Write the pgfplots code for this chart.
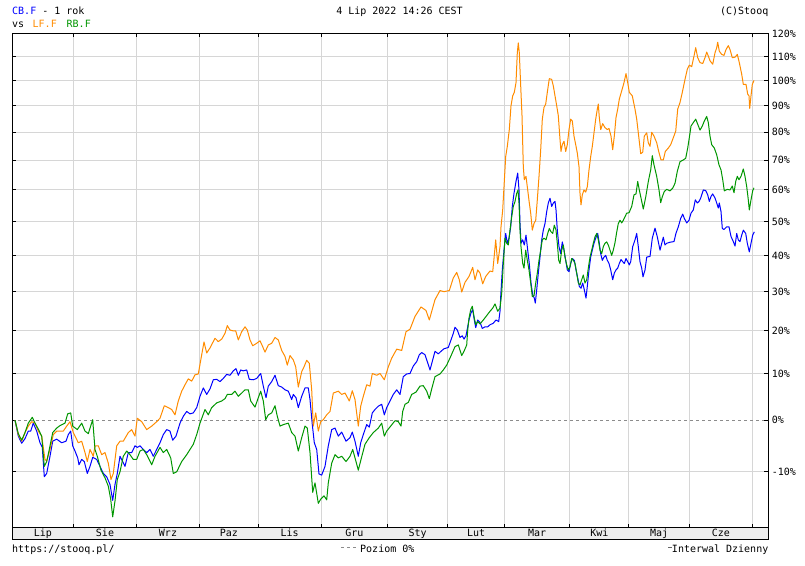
\documentclass[border=0pt]{standalone}
\usepackage{fontspec}
\setmainfont{DejaVu Sans Mono}
\usepackage{pgfplots}
\pgfplotsset{compat=1.18}
\definecolor{cbblue}{RGB}{0,0,255}
\definecolor{lforange}{RGB}{255,140,0}
\definecolor{rbgreen}{RGB}{0,150,0}
\definecolor{gridgray}{RGB}{214,214,214}
\newcommand{\fs}{\fontsize{10bp}{12bp}\selectfont}
\begin{document}
\begin{tikzpicture}
\useasboundingbox (0,0) rectangle (805bp,566bp);
\fill[white] (0,0) rectangle (805bp,566bp);
% month band
\draw[fill=black!7, line width=1bp] (12.3bp,26.7bp) rectangle (768.3bp,38.3bp);
\begin{axis}[
  at={(12.3bp,38.3bp)}, anchor=south west,
  scale only axis, width=756bp, height=494.4bp,
  xmin=12.3, xmax=768.3,
  ymode=log, ymin=80.3, ymax=220.3,
  axis line style={black, line width=1.2bp},
  xtick={73.3,136.7,199.3,258.3,321,387.7,447.6,504.6,569.8,628.8,689.4,752.3},
  xticklabels={},
  ytick={90,110,120,130,140,150,160,170,180,190,200,210,220},
  yticklabels={-10\%,10\%,20\%,30\%,40\%,50\%,60\%,70\%,80\%,90\%,100\%,110\%,120\%},
  extra y ticks={100}, extra y tick labels={0\%},
  extra y tick style={grid=major, major grid style={draw=black!45, dash pattern=on 3bp off 3bp, line width=1bp}},
  grid=major, major grid style={draw=gridgray, line width=1bp},
  tick align=inside, xtick pos=both, ytick pos=both, yticklabel pos=right,
  major tick length=4bp, tick style={black, line width=1bp},
  yticklabel style={font=\fs, anchor=west},
  /pgf/number format/assume math mode=true,
  clip=true,
  every axis plot/.append style={line width=1bp, no markers, line join=round},
]
\addplot[cbblue] table[x=x, y expr=100+\thisrow{p}] {
x p
15 0
18.3 -3.2
21.7 -4.6
25 -3.7
28.3 -2.2
30.7 -2.2
33.3 -0.6
36.7 -2.2
40 -4.5
42.3 -5.4
44.3 -10.9
46.7 -10.3
50 -7.1
52.7 -4.2
56.7 -3.8
61.7 -4.5
66 -4.2
68.3 -2.9
70.7 -2.2
72.7 -5.1
75 -6.1
77.7 -7.4
79 -8.7
81.7 -7.7
84.3 -8.1
87.3 -10.3
90 -9.0
92.7 -7.3
96.7 -7.7
100 -9.0
103.3 -10.3
106.7 -10.9
110 -12.3
112.7 -15.1
115 -12.3
117.3 -10.3
120 -7.1
122.7 -8.1
125 -9.0
128.3 -6.4
131.7 -6.4
135 -5.1
137.3 -5.4
140 -5.1
143.3 -5.8
146.7 -6.4
150 -5.8
153.3 -7.1
156.7 -5.8
160 -4.5
163.3 -2.9
166.7 -1.9
170 -2.2
172.7 -4.0
176 -3.2
180 -0.6
183.3 0.8
186.7 1.8
190 1.3
193.3 1.5
196.7 2.6
200 5.0
203.3 6.8
206.7 5.4
210 6.6
213.3 8.6
216.7 8.7
220 8.2
223.3 8.9
226.7 9.8
230 9.6
233.3 10.6
236 11.1
238.3 9.6
240.7 10.8
243.3 10.6
246.7 10.8
249.3 8.7
253.3 8.6
256.7 8.9
260.7 10.0
263.3 7.2
266 4.7
268.3 7.2
271.7 8.2
275 9.6
278.3 7.3
281.7 7.0
285 6.4
288.3 6.1
291.7 4.3
293.3 5.4
296 4.7
298.3 2.6
301.7 5.0
305 6.8
308.3 6.8
310 4.3
312.3 -0.9
314.3 -4.5
316.7 -5.8
319 -10.4
321.7 -10.6
325 -9.0
328.3 -5.1
331.7 -1.9
335 -1.6
338.3 -3.2
341.7 -2.4
346 -4.2
350 -3.5
352.3 -2.4
355 -4.2
358.3 -7.1
360.7 -4.5
363.3 -2.9
366.7 -0.9
369.3 -1.4
372.3 1.5
375 2.2
378.3 2.9
381.7 3.3
384.3 1.1
386.7 2.6
390 4.0
393.3 5.4
396.7 6.4
400 5.4
403.3 9.3
406.7 9.9
410 10.0
413.3 11.7
416.7 12.7
419.3 14.3
421.7 14.8
425 14.3
427.3 12.7
430 10.8
432.7 13.1
435 15.1
438.3 14.5
441 15.1
444 15.7
448.3 16.0
451 17.8
453.3 19.4
455 20.9
457.3 20.2
460 18.4
462.3 18.8
464 18.0
466 18.8
467.7 21.0
469 22.7
471 24.5
472.7 25.3
474.3 22.7
475.7 20.8
477.7 22.7
480 22.1
482.3 20.6
485 21.0
487.7 21.0
490 21.5
493.3 21.9
496 22.7
498.7 22.3
500 24.9
500.7 28.7
502.3 35.9
504 41.5
505.7 46.4
507.3 43.5
509 45.0
510.7 48.4
512.3 54.7
514 58.9
516 62.8
517.7 65.6
519 60.0
520 49.4
521 43.5
522.7 44.5
524.3 43.0
526 45.9
527.7 41.5
529.3 37.6
531 32.3
532.7 29.2
534.3 28.3
535.3 27.0
536.7 30.5
538.3 35.0
540 39.5
541.7 44.5
543.3 47.4
545 49.4
546.7 53.1
548.3 55.8
550 57.3
551.7 54.7
553.3 55.8
555 56.3
556 53.6
557.3 47.4
559 42.5
560.7 40.5
562.3 43.9
564 41.5
565.7 38.6
567.3 35.9
569 35.4
570.7 37.7
572.3 39.1
574.3 38.6
576 35.9
577.7 33.7
579.3 31.4
581 30.9
582.7 32.3
584.3 30.5
586 28.3
587.3 31.4
589 35.9
590.7 39.5
592.3 41.5
594 43.5
595.7 45.0
597.7 46.4
599.3 43.5
600.7 40.5
602.3 38.6
604 39.5
605.7 40.0
607.3 38.6
609 37.7
610.7 35.9
612.7 33.2
614.3 35.0
616 35.9
617.7 36.4
619.3 37.7
621 38.8
622.7 38.2
624.3 37.7
626 39.1
627.7 38.2
629.3 37.3
630.7 38.2
632.7 42.5
635 44.5
636.7 46.4
638.3 42.5
640 38.2
641.7 36.4
643 34.0
645 35.9
646.7 39.5
650 39.7
652.3 45.0
655 48.0
657.3 45.4
660 41.5
663.3 45.3
665 43.0
666.7 43.5
670 43.8
674 44.0
676 46.5
678.3 48.4
680.7 51.0
682.7 52.3
684.3 51.0
686.7 49.6
689 50.4
691 52.6
693.3 53.6
695.3 56.8
697.3 55.8
699 56.3
700.7 57.4
703.3 60.0
705.7 59.8
707.7 58.4
709.3 56.3
711 57.9
712.7 58.7
715 57.4
716.7 55.8
718.3 54.2
719.3 55.8
721 53.1
722.3 47.9
724 47.6
726.7 48.4
729 48.4
731 45.5
733.3 44.0
735 42.7
736.7 46.4
738.3 44.5
740 44.0
741.7 45.9
743.3 47.4
745.7 46.4
747.3 43.5
749.3 41.0
751 43.5
752.7 45.9
754.3 46.9
};
\addplot[lforange] table[x=x, y expr=100+\thisrow{p}] {
x p
15 0
18.3 -2.9
21.7 -4.2
25 -2.5
28.3 -1.2
31.7 -0.3
35 -0.6
38.3 -2.2
41.7 -3.2
45 -7.7
46.7 -8.0
50 -5.8
53.3 -2.9
56.7 -2.2
63.3 -2.2
66.7 -1.2
70 -0.3
73.3 -2.5
78.3 -4.5
81.7 -4.2
85 -6.4
87.3 -8.1
90 -5.8
93.3 -7.1
95 -5.1
98.3 -5.1
101.7 -6.8
105 -6.4
108.3 -8.4
111 -11.4
113.3 -10.3
116.7 -5.1
120 -4.2
123.3 -4.2
128.3 -2.5
131.7 -1.9
135 -3.2
137.3 0.4
141.7 -0.3
146.7 -1.9
151.7 -1.2
156.7 -0.3
160 0.4
164.3 3.0
168.3 2.6
171.7 2.2
175 1.1
178.3 4.0
181.7 6.1
185 7.5
188.3 8.8
191.7 8.3
195 9.7
198.3 9.9
201.7 14.3
204 17.3
206.7 14.7
210 15.9
215 18.2
218.3 17.4
221.7 18.0
225 19.4
227.3 21.3
230 20.2
233.3 20.0
235.7 20.0
238.3 17.8
241.7 19.8
245 21.0
247.3 20.2
250 17.8
252.7 16.4
256.7 17.0
260 17.6
262.3 16.4
265 14.9
268.3 16.6
271.7 17.0
275 18.4
278.3 17.8
281.7 15.3
285 13.9
287.3 11.9
290 14.1
293.3 13.1
295.7 11.5
298.3 7.0
301.7 10.4
304 11.5
306.7 13.0
309.3 12.3
311.7 6.4
313.3 -1.2
315.7 1.5
318.3 -2.2
320.7 -0.3
323.3 0.1
326.7 1.1
330 1.8
333.3 5.7
338.3 6.1
341.7 5.4
345 5.7
349.3 4.0
352.3 6.2
355 4.3
358.3 -1.2
360.7 2.9
363.3 5.0
366.7 7.5
370 7.2
372.3 10.0
376.7 9.6
380 10.0
384.3 8.6
388.3 11.5
391.7 13.5
396.7 15.6
401.7 15.3
406 19.8
410 20.4
415 23.6
421 26.0
426 25.1
429.3 22.7
435 27.9
440 30.3
444 30.0
449.3 30.3
453.3 33.7
456.7 35.2
459.3 33.2
461.7 29.9
465 32.5
469 34.1
472.7 36.6
475 33.2
477.7 35.9
480 35.0
482.7 32.1
485.7 34.1
490 35.6
492.7 35.4
494.3 40.0
495.7 44.5
497.7 37.7
500 42.5
501 48.4
502.7 53.6
504 61.1
505.7 71.3
507.3 74.9
509.3 81.0
511 90.0
512.7 93.9
514.3 95.3
516 99.2
517.3 111.7
518.3 116.0
519.3 111.7
520.7 97.9
522 86.2
523.3 67.8
524.3 63.4
526 64.5
527.7 60.0
529.3 55.8
530.7 52.6
532.3 47.4
534 49.4
535.7 50.4
537.3 56.8
539 64.5
540.7 73.7
542.3 84.9
544 89.4
545.7 90.7
547.3 95.3
549.3 100.8
551.7 100.5
553.3 97.9
555 93.9
556.7 90.0
558.3 86.2
560 77.4
561 73.1
562.3 75.5
564 76.7
565.7 73.1
567.3 75.5
569 81.0
570.7 84.9
572.3 84.2
574 78.6
575.7 75.5
577.3 72.5
579 67.8
580 58.9
581 55.2
582.3 58.4
584 60.0
585.7 59.3
587.3 61.1
589 66.7
590.7 71.3
592.3 74.9
594 79.8
595.7 84.9
597.3 88.7
598.3 90.7
599.3 85.5
600.7 81.0
602.7 83.2
605 81.7
607.3 81.0
609 81.4
611 78.6
612.7 73.7
614.3 78.6
616 85.5
617.7 88.7
619.3 92.6
621.7 95.9
624 99.2
626 102.9
627.7 99.2
629.3 95.3
632.3 93.9
635 88.7
636.7 84.9
638.3 79.8
640.7 72.3
642.7 72.8
644.3 78.6
646.7 79.8
648.3 76.2
650 74.9
651.7 80.0
654 78.6
656.7 76.2
658.7 73.1
661 70.1
663.3 70.1
665.3 73.1
668.3 74.3
670.7 75.5
673.3 78.0
675.7 80.4
677.7 88.7
680 91.3
682.3 95.3
685 100.5
687.3 104.7
689.3 106.4
691.7 105.8
694 110.3
695.7 113.9
697.7 109.6
700 107.5
702.7 107.1
705 109.6
706.7 112.0
708.3 110.3
710 108.3
712.7 106.8
715 111.7
716.7 113.9
717.7 116.3
719.3 112.4
721.7 111.0
724 110.6
726 113.1
728.3 114.8
730 113.1
732.3 109.6
735 109.8
737.3 111.0
739.3 107.5
741.7 102.6
743.3 98.5
746 98.5
747.7 94.6
749 93.9
749.7 89.0
751 93.9
752.3 98.5
754 100.1
};
\addplot[rbgreen] table[x=x, y expr=100+\thisrow{p}] {
x p
15 0
18.3 -2.7
21.7 -4.0
25 -2.5
28.3 -0.6
32.3 0.6
35 -0.6
38.3 -1.8
41.7 -3.2
44.3 -9.0
46.7 -8.1
49.3 -5.8
52.7 -2.5
56.7 -1.6
60 -1.1
65 -0.6
67.7 1.3
70.7 1.5
72.7 -1.2
77.3 -1.9
81.7 -0.6
85 -2.2
88.3 -2.7
92.7 0.1
95 -5.8
97.3 -7.1
101 -9.7
105 -11.1
108.3 -12.6
110.7 -14.9
112.7 -17.9
115 -15.2
117.3 -11.4
120 -10.0
123.3 -7.1
126.7 -6.1
130 -6.8
133.3 -7.7
136.7 -7.7
140 -6.1
143.3 -5.8
146.7 -6.8
151.7 -8.7
155 -7.1
160 -5.4
163.3 -6.4
166.7 -5.8
170.7 -7.4
173.3 -10.3
176.7 -10.0
181.7 -8.1
186.7 -6.8
190 -5.8
193.3 -4.8
196.7 -2.9
200 -0.6
205 2.2
208.3 1.1
211.7 2.6
216.7 3.6
221.7 4.0
225 4.5
227.3 5.4
231.7 5.4
235 6.1
238.3 5.0
241.7 5.7
245 6.4
248.3 6.4
250.7 4.0
255 2.7
258.3 4.7
260.7 6.1
263.3 4.0
265.7 0.1
268.3 1.1
271.7 1.5
275 3.0
277.3 0.8
280 -1.2
283.3 -0.9
288.3 -0.6
291.7 -2.5
295 -3.2
298.3 -6.1
301.7 -3.5
305 -1.2
307.3 -1.6
310 -6.4
312.7 -13.7
315 -12.0
318.3 -15.6
320.7 -14.9
324 -14.3
326.7 -15.0
328.3 -12.0
331.7 -8.4
335 -6.8
338.3 -7.4
341.7 -7.1
346 -8.1
350 -7.1
352.7 -5.8
356 -8.1
358.3 -9.7
361 -7.7
365 -4.8
369.3 -3.5
373.3 -2.5
378.3 -1.6
381.7 -0.6
384.3 -3.2
386.7 -2.2
390.7 -1.2
395 -0.1
398.3 -0.3
401 -1.2
402.7 1.8
405 3.3
408.3 3.7
411.7 5.4
416 5.9
420 7.2
423.3 7.3
426.7 6.1
429.3 4.5
431.7 6.6
435 9.3
440 9.9
443.3 10.8
446.7 11.9
450.7 13.9
455 16.2
458.3 16.6
461.7 14.1
464 15.1
466.7 16.6
467.7 20.2
469 23.2
470.7 25.3
472.3 26.2
474 23.6
475.7 21.5
477.7 22.3
480 21.7
483.3 22.7
486.7 23.8
490 24.9
492.7 25.7
495 26.8
497.7 24.9
500 25.7
501.7 29.6
503.3 37.7
505 45.0
506.7 43.5
508.3 43.0
510 47.4
511.7 51.5
513.3 54.7
515 56.3
516.7 58.9
518 60.0
519 55.8
520 47.4
521 42.5
522.7 37.7
524 36.4
525.7 41.5
527.3 38.6
529 35.9
530.7 32.3
532.3 28.7
534 28.9
535.7 32.3
537.3 35.0
539 38.6
540.7 41.5
542.3 44.5
544 45.0
546 44.5
547.7 46.4
549.3 47.9
551 46.9
552.7 46.4
554.3 48.9
556 47.4
557.3 43.5
558.7 38.6
560 37.7
561.7 41.5
563.3 43.0
565 39.5
566.7 37.3
568.3 35.9
570 36.8
571.7 39.1
573.3 38.6
575 37.7
576.7 35.0
578.3 32.3
580 31.8
581.7 33.2
583.3 34.5
585 32.3
586.7 33.2
588.3 36.4
590 39.5
591.7 41.5
593.3 43.5
595 45.4
596.7 46.4
598.3 44.5
600 41.5
601.7 40.5
603.3 42.5
605 43.5
606.7 43.9
608.3 43.0
610 41.5
611.7 40.0
613.3 41.5
615 43.7
616.7 46.8
618.3 49.4
620 50.4
621.7 49.6
623.3 50.4
625 51.5
626.7 52.6
629 52.7
631.7 54.7
634 58.4
636 58.7
637.7 62.8
639.3 60.0
641 57.4
643.3 53.9
645.7 57.7
648.3 62.8
650.7 66.7
652.3 71.6
654 68.4
656.7 64.5
659 60.0
660.7 55.9
662.3 57.8
664.3 59.5
666.7 60.2
670 59.7
672.7 60.6
675 62.2
677.3 66.2
680 69.5
683.3 70.1
685.7 70.7
687.7 74.3
689.3 78.0
691 82.3
693.3 83.6
695.7 84.9
697.7 83.0
700 80.8
702.3 82.3
704.3 84.2
706.7 85.9
708.3 83.6
710 78.6
711.7 75.5
714.3 74.3
716.7 71.9
719 68.4
721 66.7
722.7 63.4
724.3 59.7
727.3 60.2
730 60.0
732.3 61.3
734 59.1
735.7 62.8
737.3 64.5
739 63.4
741 64.5
743.3 67.0
745 64.5
746.7 61.1
748.3 56.8
749.3 53.6
751 56.8
752.7 59.8
754 60.7
};
\end{axis}
% month labels
\begin{scope}[every node/.style={font=\fs, anchor=base, inner sep=0pt}]
\node at (42.8bp,29.3bp) {Lip};
\node at (105bp,29.3bp) {Sie};
\node at (168bp,29.3bp) {Wrz};
\node at (228.8bp,29.3bp) {Paz};
\node at (289.7bp,29.3bp) {Lis};
\node at (354.3bp,29.3bp) {Gru};
\node at (417.7bp,29.3bp) {Sty};
\node at (476.1bp,29.3bp) {Lut};
\node at (537.2bp,29.3bp) {Mar};
\node at (599.3bp,29.3bp) {Kwi};
\node at (659.1bp,29.3bp) {Maj};
\node at (720.9bp,29.3bp) {Cze};
\end{scope}
% header
\begin{scope}[every node/.style={font=\fs, inner sep=0pt}]
\node[anchor=base west] at (12bp,551bp) {\textcolor{cbblue}{CB.F} - 1 rok};
\node[anchor=base west] at (12bp,538.5bp) {vs};
\node[anchor=base west, text=lforange] at (32.5bp,538.5bp) {LF.F};
\node[anchor=base west, text=rbgreen] at (66.5bp,538.5bp) {RB.F};
\node[anchor=base] at (399.5bp,551bp) {4 Lip 2022 14:26 CEST};
\node[anchor=base east] at (768.5bp,551bp) {(C)Stooq};
% footer
\node[anchor=base west] at (12bp,14bp) {https://stooq.pl/};
\node[anchor=base west] at (360bp,14bp) {Poziom 0\%};
\node[anchor=base east] at (768.5bp,14bp) {Interwal Dzienny};
\end{scope}
\draw[black!45, line width=1bp, dash pattern=on 3bp off 3bp] (341bp,18bp) -- (358bp,18bp);
\draw[black!60, line width=1bp] (668bp,18bp) -- (671.5bp,18bp);
\end{tikzpicture}
\end{document}
